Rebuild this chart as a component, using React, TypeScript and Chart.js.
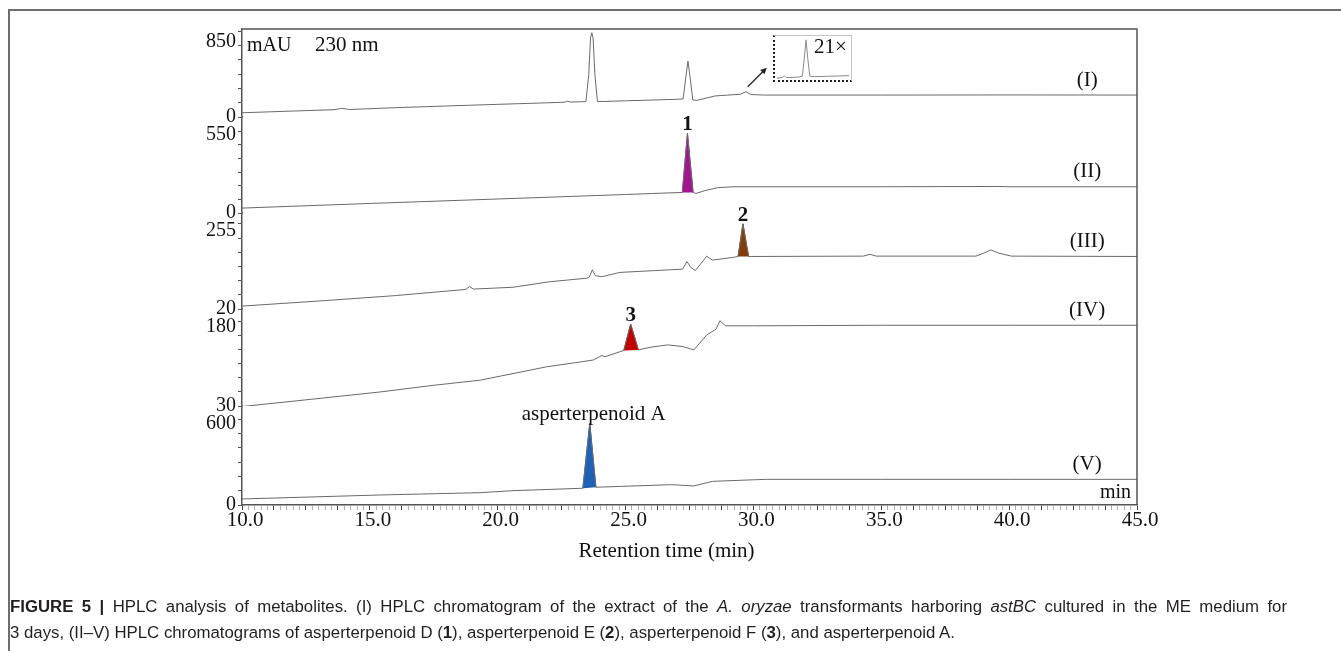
import React, { useEffect, useRef } from "react";
import { Chart, registerables } from "chart.js";

Chart.register(...registerables);

const SERIF = '"Liberation Serif", "Times New Roman", serif';

// ---------------- data (retention time in min, absorbance in mAU) ----------------
const timeI = [10.0, 12.0, 13.6, 13.9, 14.2, 16.0, 18.0, 20.0, 22.0, 22.6, 22.72, 22.85, 23.45, 23.56, 23.63, 23.68, 23.73, 23.8, 23.9, 25.0, 27.0, 27.25, 27.36, 27.44, 27.52, 27.63, 27.8, 28.5, 29.5, 29.7, 29.9, 30.4, 35.0, 40.0, 45.0];
const mauI = [42, 59, 72, 86, 74, 92, 109, 125, 141, 146, 156, 148, 152, 420, 780, 833, 780, 420, 152, 160, 175, 178, 400, 553, 400, 168, 165, 208, 225, 250, 222, 217, 217, 218, 217];

const timeII = [10.0, 15.0, 20.0, 25.0, 27.22, 27.42, 27.64, 27.75, 28.1, 28.6, 29.2, 35.0, 39.6, 40.0, 45.0];
const mauII = [33, 64, 94, 124, 138, 534, 138, 131, 150, 170, 176, 176, 178, 176, 176];

const timeIII = [10.0, 13.0, 16.0, 18.75, 18.9, 19.05, 20.6, 22.0, 23.48, 23.58, 23.7, 23.82, 24.06, 24.78, 27.23, 27.4, 27.55, 27.73, 28.0, 28.17, 28.39, 29.26, 29.4, 29.59, 29.81, 29.91, 34.3, 34.56, 34.8, 38.7, 39.0, 39.29, 39.6, 40.09, 45.0];
const mauIII = [28, 42, 57, 74, 82, 75, 80, 95, 105, 108, 128, 112, 109, 121, 130, 151, 135, 126, 150, 166, 155, 163, 165, 255, 165, 165, 166, 171, 166, 166, 174, 183, 174, 166, 165];

const timeIV = [10.0, 12.5, 15.4, 17.5, 19.31, 21.92, 23.0, 23.74, 24.07, 24.2, 24.93, 25.2, 25.5, 26.0, 26.65, 27.24, 27.67, 28.18, 28.54, 28.69, 28.91, 30.0, 35.0, 40.0, 45.0];
const mauIV = [29, 41, 55, 67, 76, 100, 107, 112, 120, 118, 129, 176, 130, 135, 139, 136, 130, 157, 167, 182, 173, 173, 174, 174, 174];

const timeV = [10.0, 15.4, 19.31, 20.6, 23.33, 23.6, 23.84, 25.33, 26.8, 27.67, 28.4, 29.71, 30.5, 35.0, 40.0, 45.0];
const mauV = [42, 70, 86, 100, 117, 570, 124, 133, 142, 133, 165, 174, 179, 179, 179, 179];

// shaded peaks
const peak1Time = [27.22, 27.42, 27.64];
const peak1Mau = [138, 534, 138];
const peak2Time = [29.4, 29.59, 29.81];
const peak2Mau = [165, 255, 165];
const peak3Time = [24.93, 25.2, 25.5];
const peak3Mau = [129, 176, 130];
const peakATime = [23.33, 23.6, 23.84];
const peakAMau = [117, 570, 124];

// 21x magnified inset of the small peak in trace (I)
const insetTime = [29.33, 29.42, 29.45, 29.48, 29.67, 29.73, 29.76, 29.79, 29.82, 29.85, 29.92, 30.18, 30.47];
const insetValue = [2, 2.5, 4.5, 2.5, 3, 4, 21, 42, 21, 4, 3.5, 4, 4.5];

// axis labels
const traceNames = ["(I)", "(II)", "(III)", "(IV)", "(V)"];
const axisBottomLabel = [0, 0, 20, 30, 0];
const axisTopLabel = [850, 550, 255, 180, 600];
const axisMin = [0, 0, 20, 30, 0];
const axisMax = [870, 644, 285, 203, 691];
const xTickLabelStep = 5;

// ---------------- styling ----------------
const axisIds = ["y1", "y2", "y3", "y4", "y5"];
const stackWeights = [88, 96, 96, 97, 99];
const topLabelShift = [11, 4, 7, 5, 5];
const TRACE_COLOR = "#6a6a6a";
const AXIS_COLOR = "#555";

const traces = [
  { t: timeI, v: mauI },
  { t: timeII, v: mauII },
  { t: timeIII, v: mauIII },
  { t: timeIV, v: mauIV },
  { t: timeV, v: mauV },
];

const peaks = [
  { t: peak1Time, v: peak1Mau, axis: "y2", color: "#a3158e", label: "1", bold: true },
  { t: peak2Time, v: peak2Mau, axis: "y3", color: "#833c0c", label: "2", bold: true },
  { t: peak3Time, v: peak3Mau, axis: "y4", color: "#c00000", label: "3", bold: true },
  { t: peakATime, v: peakAMau, axis: "y5", color: "#1f62b5", label: "asperterpenoid A", bold: false },
];

const toXY = (t: number[], v: number[]) => t.map((x, i) => ({ x, y: v[i] }));

const makeYAxis = (i: number) => ({
  type: "linear",
  position: "left",
  stack: "traces",
  stackWeight: stackWeights[i],
  weight: 5 - i,
  min: axisMin[i],
  max: axisMax[i],
  offset: false,
  afterFit: (s: any) => {
    s.width = 45;
  },
  afterBuildTicks: (s: any) => {
    const lo = axisBottomLabel[i];
    const hi = axisTopLabel[i];
    s.ticks = Array.from({ length: 7 }, (_, k) => ({ value: lo + ((hi - lo) * k) / 6 }));
  },
  ticks: {
    autoSkip: false,
    padding: 2,
    color: "#111",
    font: { family: SERIF, size: 20, lineHeight: (topLabelShift[i] * 2) / 20 },
    callback: (val: any) => {
      const v = Number(val);
      if (Math.abs(v - axisBottomLabel[i]) < 1e-6) return String(axisBottomLabel[i]);
      if (Math.abs(v - axisTopLabel[i]) < 1e-6) return ["", String(axisTopLabel[i])];
      return "";
    },
  },
  grid: { drawOnChartArea: false, drawTicks: true, tickLength: 4, tickColor: AXIS_COLOR, tickWidth: 1 },
  border: { display: true, color: AXIS_COLOR, width: 1.5 },
});

const decorPlugin = {
  id: "decor",
  afterDraw(chart: any) {
    const { ctx, chartArea: a, scales } = chart;
    const xs = scales.x;
    ctx.save();
    // plot frame (top and right)
    ctx.strokeStyle = AXIS_COLOR;
    ctx.lineWidth = 1.5;
    ctx.beginPath();
    ctx.moveTo(a.left, a.top);
    ctx.lineTo(a.right, a.top);
    ctx.lineTo(a.right, a.bottom);
    ctx.stroke();

    ctx.fillStyle = "#111";
    // trace names
    ctx.font = `21px ${SERIF}`;
    ctx.textAlign = "center";
    ctx.textBaseline = "middle";
    traces.forEach((tr, i) => {
      const y = scales[axisIds[i]].getPixelForValue(tr.v[tr.v.length - 1]);
      ctx.fillText(traceNames[i], xs.getPixelForValue(43.05), y - 15);
    });

    // peak labels
    ctx.textBaseline = "alphabetic";
    peaks.forEach((p) => {
      let k = 0;
      p.v.forEach((val, j) => {
        if (val > p.v[k]) k = j;
      });
      const px = xs.getPixelForValue(p.t[k]);
      const py = scales[p.axis].getPixelForValue(p.v[k]);
      ctx.font = p.bold ? `bold 21px ${SERIF}` : `21px ${SERIF}`;
      ctx.fillText(p.label, px + (p.bold ? 0 : 4), py - 3);
    });

    // header texts
    ctx.textAlign = "left";
    ctx.font = `20px ${SERIF}`;
    ctx.fillText("mAU", a.left + 5, a.top + 22);
    ctx.font = `21px ${SERIF}`;
    ctx.fillText("230 nm", a.left + 73, a.top + 22);
    ctx.textAlign = "right";
    ctx.font = `20px ${SERIF}`;
    ctx.fillText("min", a.right - 6, a.bottom - 7);

    // axis title
    ctx.textAlign = "center";
    ctx.textBaseline = "middle";
    ctx.font = `21px ${SERIF}`;
    ctx.fillText("Retention time (min)", (a.left + a.right) / 2 - 23, a.bottom + 46);

    // arrow pointing to the magnified inset
    const sx = xs.getPixelForValue(29.7) + 2;
    const sy = scales.y1.getPixelForValue(250) - 5;
    const ex = sx + 19;
    const ey = sy - 19;
    ctx.strokeStyle = "#222";
    ctx.fillStyle = "#222";
    ctx.lineWidth = 1.2;
    ctx.beginPath();
    ctx.moveTo(sx, sy);
    ctx.lineTo(ex - 3, ey + 3);
    ctx.stroke();
    const ang = Math.atan2(ey - sy, ex - sx);
    ctx.beginPath();
    ctx.moveTo(ex, ey);
    ctx.lineTo(ex - 7 * Math.cos(ang - 0.45), ey - 7 * Math.sin(ang - 0.45));
    ctx.lineTo(ex - 7 * Math.cos(ang + 0.45), ey - 7 * Math.sin(ang + 0.45));
    ctx.closePath();
    ctx.fill();
    ctx.restore();
  },
};

export default function App() {
  const mainRef = useRef<HTMLCanvasElement>(null);
  const insetRef = useRef<HTMLCanvasElement>(null);

  useEffect(() => {
    const datasets: any[] = [];
    peaks.forEach((p) => {
      datasets.push({
        data: toXY(p.t, p.v),
        yAxisID: p.axis,
        backgroundColor: p.color,
        borderColor: p.color,
        borderWidth: 1,
        pointRadius: 0,
        tension: 0,
        fill: "shape",
        order: 2,
      });
    });
    traces.forEach((tr, i) => {
      datasets.push({
        data: toXY(tr.t, tr.v),
        yAxisID: axisIds[i],
        borderColor: TRACE_COLOR,
        borderWidth: 1,
        pointRadius: 0,
        tension: 0,
        fill: false,
        order: 1,
      });
    });

    const scales: any = {
      x: {
        type: "linear",
        min: 10,
        max: 45,
        afterFit: (s: any) => {
          s.height = 60;
        },
        afterBuildTicks: (s: any) => {
          s.ticks = Array.from({ length: 141 }, (_, k) => ({ value: 10 + k * 0.25 }));
        },
        ticks: {
          autoSkip: false,
          maxRotation: 0,
          padding: -2,
          labelOffset: 3,
          color: "#111",
          font: { family: SERIF, size: 21 },
          callback: (val: any) => {
            const v = Number(val);
            return Math.abs(v / xTickLabelStep - Math.round(v / xTickLabelStep)) < 1e-6 ? v.toFixed(1) : "";
          },
        },
        grid: {
          drawOnChartArea: false,
          drawTicks: true,
          tickLength: 5,
          tickColor: (c: any) => {
            const v = c.tick ? c.tick.value : 0;
            return Math.abs(v / 1.25 - Math.round(v / 1.25)) < 1e-6 ? "#444" : "#b0b0b0";
          },
          tickWidth: 1,
        },
        border: { display: true, color: AXIS_COLOR, width: 1.5 },
      },
    };
    axisIds.forEach((id, i) => {
      scales[id] = makeYAxis(i);
    });

    const main = new Chart(mainRef.current as HTMLCanvasElement, {
      type: "line",
      data: { datasets },
      options: {
        animation: false,
        responsive: true,
        maintainAspectRatio: false,
        events: [],
        layout: { padding: { left: 197, top: 29, right: 204, bottom: 10 } },
        plugins: { legend: { display: false }, tooltip: { enabled: false } },
        scales,
      } as any,
      plugins: [decorPlugin],
    });

    const inset = new Chart(insetRef.current as HTMLCanvasElement, {
      type: "line",
      data: {
        datasets: [
          {
            data: toXY(insetTime, insetValue),
            borderColor: "#8a8a8a",
            borderWidth: 1,
            pointRadius: 0,
            tension: 0,
            fill: false,
          },
        ],
      },
      options: {
        animation: false,
        responsive: true,
        maintainAspectRatio: false,
        events: [],
        layout: { padding: 0 },
        plugins: { legend: { display: false }, tooltip: { enabled: false } },
        scales: {
          x: { type: "linear", min: 29.3, max: 30.5, display: false },
          y: { type: "linear", min: 0, max: 46, display: false },
        },
      } as any,
    });

    return () => {
      main.destroy();
      inset.destroy();
    };
  }, []);

  const captionFont = '16.8px "Liberation Sans", Arial, sans-serif';

  return (
    <>
      <div
        style={{
          position: "fixed",
          left: 8,
          top: 9,
          width: 1340,
          height: 650,
          borderLeft: "2px solid #6e6e6e",
          borderTop: "2px solid #6e6e6e",
        }}
      />
      <div style={{ position: "fixed", left: 0, top: 0, width: 1341, height: 575 }}>
        <canvas ref={mainRef} />
      </div>
      <div
        style={{
          position: "fixed",
          left: 773,
          top: 35,
          width: 76,
          height: 44,
          borderLeft: "2px dotted #222",
          borderBottom: "2px dotted #222",
          borderTop: "1px solid #c4c4c4",
          borderRight: "1px solid #c4c4c4",
          background: "#fff",
        }}
      >
        <canvas ref={insetRef} />
      </div>
      <div
        style={{
          position: "fixed",
          left: 814,
          top: 33,
          font: `21px ${SERIF}`,
          color: "#111",
          lineHeight: "26px",
        }}
      >
        21×
      </div>
      <div
        style={{
          position: "fixed",
          left: 10,
          top: 594,
          width: 1277,
          font: captionFont,
          lineHeight: "26px",
          color: "#231f20",
          whiteSpace: "nowrap",
          textAlign: "justify",
          textAlignLast: "justify",
        }}
      >
        <b>FIGURE 5 |</b> HPLC analysis of metabolites. (I) HPLC chromatogram of the extract of the{" "}
        <i>A. oryzae</i> transformants harboring <i>astBC</i> cultured in the ME medium for
      </div>
      <div
        style={{
          position: "fixed",
          left: 10,
          top: 620,
          font: captionFont,
          lineHeight: "26px",
          color: "#231f20",
          whiteSpace: "nowrap",
        }}
      >
        3 days, (II–V) HPLC chromatograms of asperterpenoid D (<b>1</b>), asperterpenoid E (<b>2</b>),
        asperterpenoid F (<b>3</b>), and asperterpenoid A.
      </div>
    </>
  );
}
